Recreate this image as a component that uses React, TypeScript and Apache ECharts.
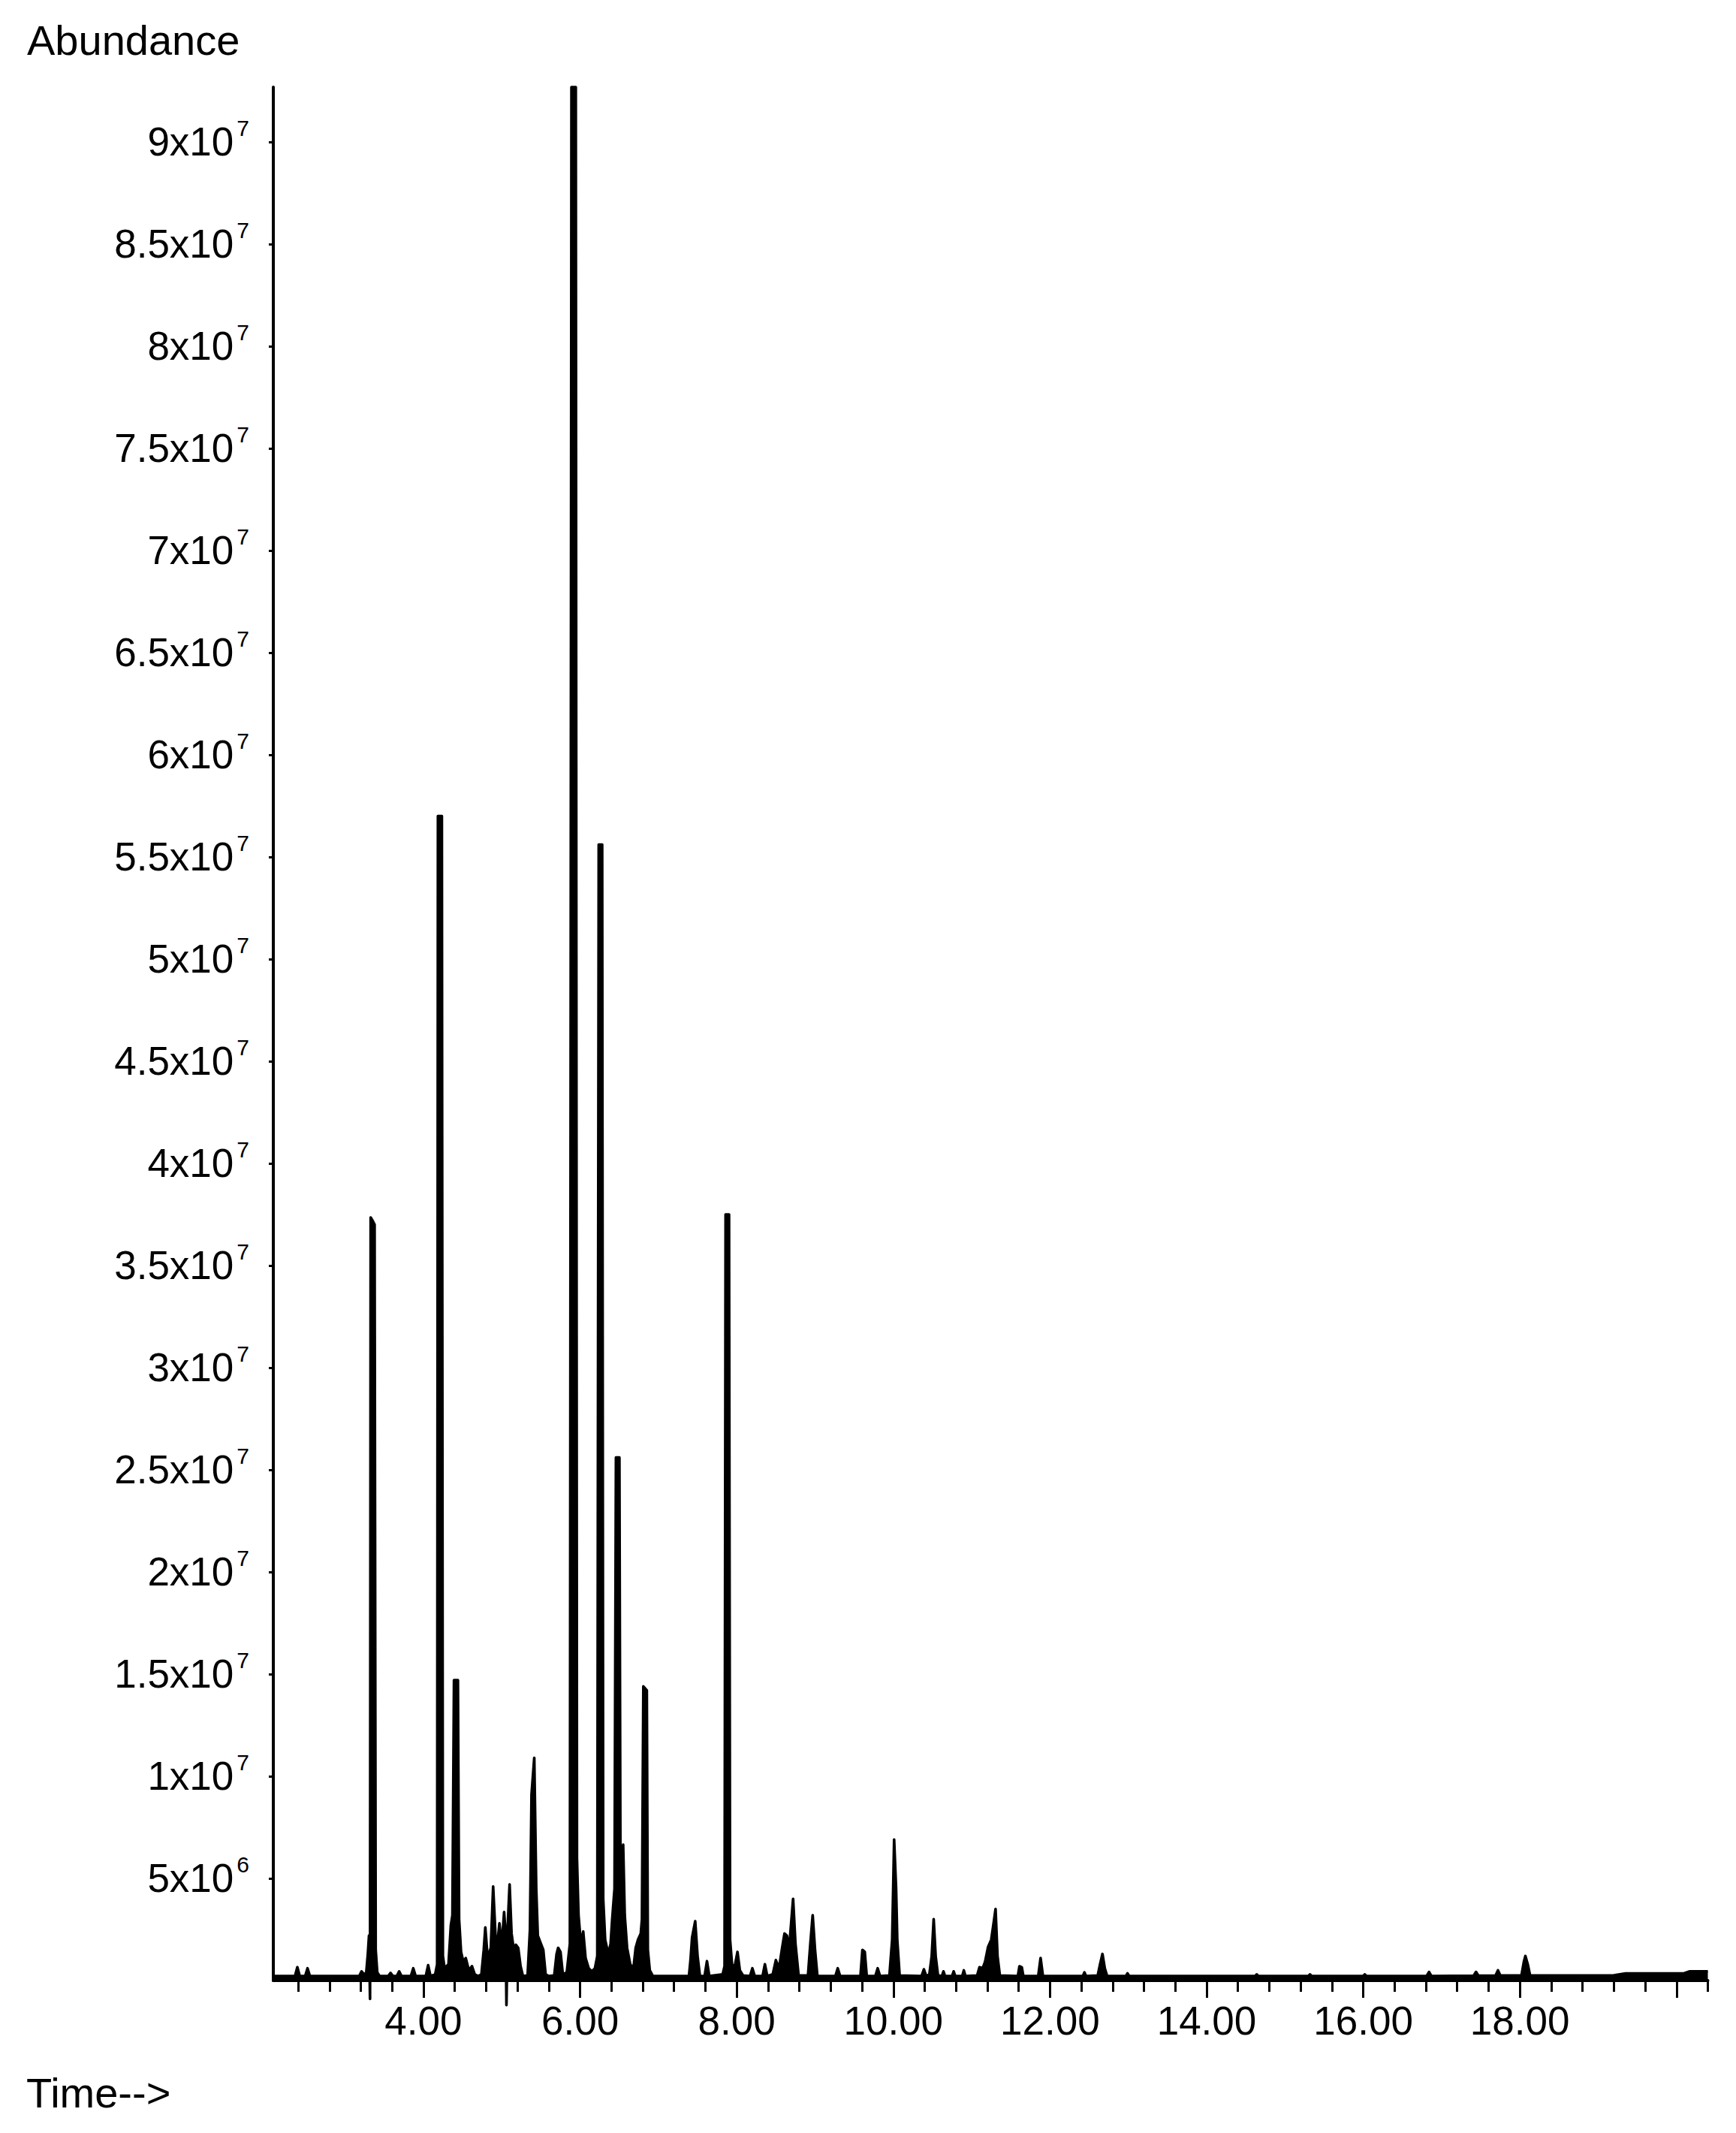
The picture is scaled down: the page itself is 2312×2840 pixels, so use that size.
import React, { useEffect, useRef } from "react";
import * as echarts from "echarts";

const FONT = '"Liberation Sans", Arial, Helvetica, sans-serif';

// Retention time (min) vs abundance
const chromatogram: [number, number][] = [
  [2.083, 0.22e6],
  [2.36, 0.22e6], [2.39, 0.65e6], [2.42, 0.22e6],
  [2.49, 0.22e6], [2.52, 0.6e6], [2.55, 0.22e6],
  [3.18, 0.22e6], [3.21, 0.45e6], [3.245, 0.28e6],
  [3.27, 0.4e6], [3.29, 1.3e6], [3.305, 2.2e6], [3.318, -0.9e6], [3.326, 37.35e6], [3.35, 37.2e6], [3.376, 37.0e6], [3.39, 1.5e6], [3.41, 0.4e6], [3.44, 0.22e6],
  [3.55, 0.22e6], [3.58, 0.37e6], [3.61, 0.22e6],
  [3.66, 0.22e6], [3.69, 0.45e6], [3.72, 0.22e6],
  [3.84, 0.22e6], [3.87, 0.6e6], [3.9, 0.22e6],
  [4.03, 0.22e6], [4.06, 0.75e6], [4.09, 0.22e6],
  [4.15, 0.3e6], [4.175, 0.8e6], [4.185, 57.0e6], [4.235, 57.0e6], [4.248, 1.2e6], [4.27, 0.6e6],
  [4.32, 0.8e6], [4.35, 2.7e6], [4.37, 3.2e6], [4.39, 14.7e6], [4.44, 14.7e6], [4.455, 3.0e6], [4.48, 1.4e6], [4.51, 0.9e6], [4.54, 1.1e6], [4.58, 0.5e6], [4.62, 0.7e6], [4.655, 0.3e6], [4.7, 0.22e6],
  [4.74, 0.3e6], [4.77, 1.5e6], [4.79, 2.6e6], [4.82, 1.1e6], [4.86, 1.6e6], [4.89, 4.6e6], [4.92, 2.2e6], [4.95, 2.0e6], [4.97, 2.8e6], [5.0, 1.7e6], [5.03, 3.35e6], [5.05, 2.2e6], [5.06, -1.2e6], [5.075, 2.6e6], [5.1, 4.7e6], [5.125, 2.3e6], [5.15, 1.6e6], [5.18, 1.75e6], [5.21, 1.6e6], [5.24, 0.7e6], [5.27, 0.22e6],
  [5.33, 0.25e6], [5.36, 2.5e6], [5.38, 9.1e6], [5.415, 10.9e6], [5.44, 4.5e6], [5.46, 2.2e6], [5.5, 1.8e6], [5.53, 1.5e6], [5.56, 0.3e6], [5.6, 0.22e6],
  [5.67, 0.25e6], [5.7, 1.3e6], [5.72, 1.6e6], [5.75, 1.4e6], [5.78, 0.3e6],
  [5.83, 0.4e6], [5.87, 1.8e6], [5.89, 92.68e6], [5.945, 92.68e6], [5.96, 6.0e6], [5.98, 3.2e6], [6.01, 1.8e6], [6.04, 2.4e6], [6.07, 1.1e6], [6.11, 0.6e6], [6.15, 0.45e6], [6.19, 0.6e6],
  [6.22, 1.2e6], [6.238, 55.6e6], [6.282, 55.6e6], [6.295, 4.0e6], [6.32, 2.0e6], [6.36, 1.3e6], [6.39, 1.8e6], [6.41, 3.0e6], [6.44, 4.5e6],
  [6.458, 25.6e6], [6.502, 25.6e6], [6.515, 6.0e6], [6.53, 5.1e6], [6.55, 6.65e6], [6.57, 3.2e6], [6.6, 1.6e6], [6.64, 0.8e6], [6.68, 0.55e6],
  [6.71, 1.6e6], [6.74, 2.0e6], [6.775, 2.3e6], [6.79, 3.0e6], [6.808, 14.4e6], [6.852, 14.2e6], [6.865, 1.5e6], [6.89, 0.5e6], [6.93, 0.22e6],
  [7.39, 0.22e6], [7.41, 1.0e6], [7.43, 2.1e6], [7.47, 2.9e6], [7.5, 1.2e6], [7.53, 0.22e6],
  [7.59, 0.22e6], [7.62, 0.95e6], [7.65, 0.22e6],
  [7.82, 0.3e6], [7.845, 0.7e6], [7.858, 37.5e6], [7.902, 37.5e6], [7.915, 2.0e6], [7.94, 0.8e6], [7.97, 0.6e6], [8.01, 1.4e6], [8.04, 0.5e6], [8.08, 0.25e6],
  [8.17, 0.22e6], [8.2, 0.6e6], [8.23, 0.22e6],
  [8.33, 0.22e6], [8.36, 0.8e6], [8.39, 0.22e6],
  [8.46, 0.3e6], [8.5, 1.0e6], [8.54, 0.6e6], [8.58, 1.6e6], [8.61, 2.3e6], [8.64, 2.2e6], [8.67, 1.6e6], [8.72, 4.0e6], [8.75, 1.8e6], [8.79, 0.25e6],
  [8.91, 0.25e6], [8.94, 1.8e6], [8.97, 3.2e6], [9.0, 1.5e6], [9.03, 0.22e6],
  [9.26, 0.22e6], [9.29, 0.6e6], [9.32, 0.22e6],
  [9.58, 0.22e6], [9.605, 1.5e6], [9.635, 1.4e6], [9.66, 0.22e6],
  [9.77, 0.22e6], [9.8, 0.6e6], [9.83, 0.22e6],
  [9.95, 0.25e6], [9.985, 2.0e6], [10.01, 6.9e6], [10.035, 4.5e6], [10.05, 2.0e6], [10.08, 0.25e6],
  [10.36, 0.22e6], [10.39, 0.55e6], [10.42, 0.22e6],
  [10.46, 0.3e6], [10.49, 1.2e6], [10.515, 3.0e6], [10.54, 1.2e6], [10.57, 0.25e6],
  [10.62, 0.22e6], [10.64, 0.45e6], [10.66, 0.22e6],
  [10.75, 0.22e6], [10.77, 0.45e6], [10.79, 0.22e6],
  [10.88, 0.22e6], [10.9, 0.5e6], [10.92, 0.22e6],
  [11.07, 0.25e6], [11.1, 0.65e6], [11.14, 0.6e6], [11.17, 0.9e6], [11.21, 1.65e6], [11.25, 2.0e6], [11.28, 2.8e6], [11.305, 3.5e6], [11.33, 1.2e6], [11.36, 0.25e6],
  [11.59, 0.22e6], [11.61, 0.7e6], [11.64, 0.65e6], [11.66, 0.22e6],
  [11.85, 0.22e6], [11.88, 1.1e6], [11.91, 0.22e6],
  [12.42, 0.22e6], [12.44, 0.4e6], [12.46, 0.22e6],
  [12.61, 0.25e6], [12.64, 0.8e6], [12.67, 1.3e6], [12.7, 0.6e6], [12.73, 0.22e6],
  [12.97, 0.22e6], [12.99, 0.35e6], [13.01, 0.22e6],
  [14.62, 0.22e6], [14.64, 0.3e6], [14.66, 0.22e6],
  [15.3, 0.22e6], [15.32, 0.3e6], [15.34, 0.22e6],
  [16.0, 0.22e6], [16.02, 0.3e6], [16.04, 0.22e6],
  [16.81, 0.22e6], [16.84, 0.42e6], [16.87, 0.22e6],
  [17.41, 0.24e6], [17.44, 0.42e6], [17.47, 0.24e6],
  [17.69, 0.25e6], [17.72, 0.5e6], [17.75, 0.25e6],
  [18.02, 0.25e6], [18.05, 0.9e6], [18.07, 1.2e6], [18.1, 0.8e6], [18.13, 0.25e6],
  [19.2, 0.26e6], [19.35, 0.35e6], [20.1, 0.36e6], [20.17, 0.45e6], [20.4, 0.45e6],
];

const xMin = 2.083;
const xMax = 20.4;
const xMajorTicks = [4, 6, 8, 10, 12, 14, 16, 18, 20];
const xLabelTicks = [4, 6, 8, 10, 12, 14, 16, 18];
const xMinorTicks = [
  2.4, 2.8, 3.2, 3.6, 4.4, 4.8, 5.2, 5.6, 6.4, 6.8, 7.2, 7.6, 8.4, 8.8, 9.2, 9.6,
  10.4, 10.8, 11.2, 11.6, 12.4, 12.8, 13.2, 13.6, 14.4, 14.8, 15.2, 15.6, 16.4, 16.8,
  17.2, 17.6, 18.4, 18.8, 19.2, 19.6, 20.4,
];

const yMax = 92.68e6;
const yTicks = [
  5e6, 10e6, 15e6, 20e6, 25e6, 30e6, 35e6, 40e6, 45e6, 50e6, 55e6, 60e6, 65e6,
  70e6, 75e6, 80e6, 85e6, 90e6,
];

function sciLabel(v: number): string {
  if (!v) return "";
  const exp = Math.floor(Math.log10(v) + 1e-9);
  const mant = Math.round((v / Math.pow(10, exp)) * 10) / 10;
  return `{m|${mant}x10}{e|${exp}}`;
}

export default function App() {
  const ref = useRef<HTMLDivElement>(null);

  useEffect(() => {
    if (!ref.current) return;
    const chart = echarts.init(ref.current, null, { renderer: "svg" });
    const option: any = {
      animation: false,
      backgroundColor: "#ffffff",
      grid: { left: 364, right: 37.5, top: 116, bottom: 203, containLabel: false },
      xAxis: [
        {
          type: "value",
          min: xMin,
          max: xMax,
          position: "bottom",
          axisLine: { show: true, onZero: false, lineStyle: { color: "#000", width: 4 } },
          axisTick: {
            show: true,
            customValues: xMajorTicks,
            length: 23,
            lineStyle: { color: "#000", width: 3 },
          },
          axisLabel: {
            show: true,
            customValues: xLabelTicks,
            formatter: (v: number) => v.toFixed(2),
            margin: 27,
            color: "#000",
            fontSize: 53,
            fontFamily: FONT,
          },
          splitLine: { show: false },
        },
        {
          type: "value",
          min: xMin,
          max: xMax,
          position: "bottom",
          axisLine: { show: false, onZero: false },
          axisTick: {
            show: true,
            customValues: xMinorTicks,
            length: 15,
            lineStyle: { color: "#000", width: 3 },
          },
          axisLabel: { show: false },
          splitLine: { show: false },
        },
      ],
      yAxis: {
        type: "value",
        min: 0,
        max: yMax,
        axisLine: { show: true, onZero: false, lineStyle: { color: "#000", width: 4 } },
        axisTick: {
          show: true,
          customValues: yTicks,
          length: 6,
          lineStyle: { color: "#000", width: 3 },
        },
        axisLabel: {
          show: true,
          customValues: yTicks,
          margin: 32,
          formatter: (v: number) => sciLabel(v),
          rich: {
            m: { fontSize: 53, fontFamily: FONT, color: "#000", lineHeight: 60 },
            e: {
              fontSize: 30,
              fontFamily: FONT,
              color: "#000",
              lineHeight: 30,
              padding: [0, 0, 36, 4],
            },
          },
        },
        splitLine: { show: false },
      },
      series: [
        {
          type: "line",
          xAxisIndex: 0,
          yAxisIndex: 0,
          data: chromatogram,
          symbol: "none",
          showSymbol: false,
          clip: false,
          silent: true,
          lineStyle: { color: "#000", width: 3.6, join: "round" },
          areaStyle: { color: "#000", opacity: 1 },
          z: 3,
        },
      ],
      graphic: [
        {
          type: "text",
          x: 36,
          y: 53,
          style: {
            text: "Abundance",
            fontSize: 56,
            fontFamily: FONT,
            fill: "#000",
            align: "left",
            verticalAlign: "middle",
          },
        },
        {
          type: "text",
          x: 35,
          y: 2786,
          style: {
            text: "Time-->",
            fontSize: 56,
            fontFamily: FONT,
            fill: "#000",
            align: "left",
            verticalAlign: "middle",
          },
        },
      ],
    };
    chart.setOption(option);
    return () => {
      chart.dispose();
    };
  }, []);

  return (
    <div
      ref={ref}
      style={{
        position: "absolute",
        left: 0,
        top: 0,
        width: 2312,
        height: 2840,
        background: "#fff",
      }}
    />
  );
}
